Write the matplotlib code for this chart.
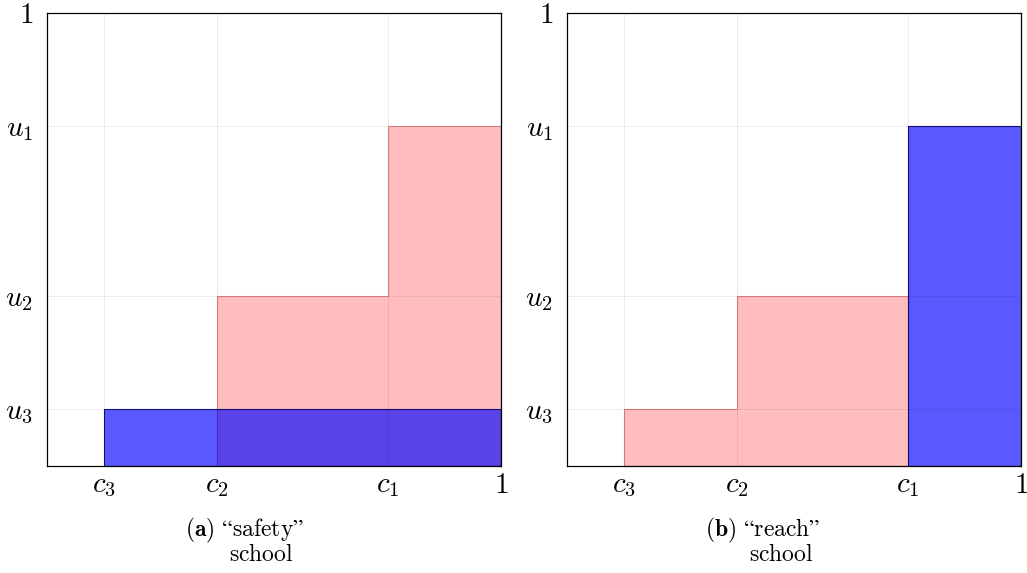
import matplotlib.pyplot as plt

plt.rcParams['mathtext.fontset'] = 'cm'
plt.rcParams['font.family'] = ['cmr10', 'DejaVu Serif']

# cutoffs and utilities
c_vals = [0.125, 0.375, 0.75, 1.0]
c_labels = [r'$c_3$', r'$c_2$', r'$c_1$', r'$1$']
u_vals = [0.125, 0.375, 0.75, 1.0]
u_labels = [r'$u_3$', r'$u_2$', r'$u_1$', r'$1$']

# (a) safety school
safety_red_left = [0.375, 0.75]
safety_red_right = [0.75, 1.0]
safety_red_h = [0.375, 0.75]
safety_blue_left = [0.125]
safety_blue_right = [1.0]
safety_blue_h = [0.125]

# (b) reach school
reach_red_left = [0.125, 0.375]
reach_red_right = [0.375, 0.75]
reach_red_h = [0.125, 0.375]
reach_blue_left = [0.75]
reach_blue_right = [1.0]
reach_blue_h = [0.75]

panels = [
    (safety_red_left, safety_red_right, safety_red_h,
     safety_blue_left, safety_blue_right, safety_blue_h, '(a)', 'safety'),
    (reach_red_left, reach_red_right, reach_red_h,
     reach_blue_left, reach_blue_right, reach_blue_h, '(b)', 'reach'),
]


def step_fill(ax, lefts, rights, heights, **kw):
    xs = list(lefts) + [rights[-1]]
    ys = list(heights) + [heights[-1]]
    ax.fill_between(xs, 0, ys, step='post', **kw)


W, H = 1027, 573
fig = plt.figure(figsize=(W / 100, H / 100), dpi=100)

lefts_px = [47, 567]
for i, (rl, rr, rh, bl, br, bh, tag, name) in enumerate(panels):
    ax = fig.add_axes([lefts_px[i] / W, (H - 466) / H, 454 / W, 453 / H])
    step_fill(ax, rl, rr, rh, facecolor=(1, 0, 0, 0.26),
              edgecolor=(0.75, 0, 0, 0.4), lw=0.8, zorder=1)
    step_fill(ax, bl, br, bh, facecolor=(0, 0, 1, 0.65),
              edgecolor=(0, 0, 0.45, 0.9), lw=0.8, zorder=2)
    ax.set_xlim(0, 1)
    ax.set_ylim(0, 1)
    ax.set_xticks(c_vals)
    ax.set_xticklabels(c_labels, fontsize=21)
    ax.set_yticks(u_vals)
    ax.set_yticklabels(u_labels, fontsize=21)
    ax.tick_params(axis='x', length=0, pad=5)
    ax.tick_params(axis='y', length=0, pad=10)
    ax.grid(True, color='black', alpha=0.08, lw=0.7, zorder=3)
    ax.set_axisbelow(False)
    for s in ax.spines.values():
        s.set_linewidth(0.9)
        s.set_zorder(4)

    x0 = lefts_px[i]
    fig.text((x0 + 138) / W, 1 - 530 / H,
             r'$\mathbf{' + tag + r'}\ \mathrm{“' + name + r'”}$',
             fontsize=17, ha='left', va='center')
    fig.text((x0 + 182) / W, 1 - 555 / H, r'$\mathrm{school}$', fontsize=17,
             ha='left', va='center')

fig.savefig('out.png', dpi=100)
